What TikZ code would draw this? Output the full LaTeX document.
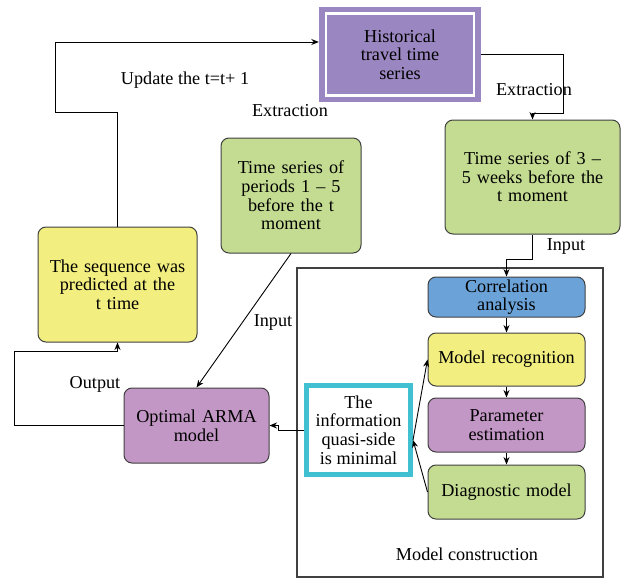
\documentclass[tikz,border=0pt]{standalone}
\usepackage{fontspec}
\setmainfont{Liberation Serif}
\usetikzlibrary{arrows.meta}
\definecolor{boxgreen}{HTML}{C4DC91}
\definecolor{boxyellow}{HTML}{F2EE80}
\definecolor{boxpurple}{HTML}{C397C5}
\definecolor{boxviolet}{HTML}{9A86C0}
\definecolor{boxblue}{HTML}{6BA3D9}
\definecolor{boxcyan}{HTML}{40C0D0}
\definecolor{edgegray}{HTML}{404040}
\newcommand{\boxfont}{\fontsize{18.2}{18.6}\selectfont}
\tikzset{
  flowbox/.style={draw=edgegray, line width=1pt, rounded corners=8pt,
    align=center, inner sep=2pt, font=\boxfont},
  lbl/.style={font=\boxfont, inner sep=0pt},
  conn/.style={draw=black, line width=0.9pt, -{Stealth[length=7.5pt,width=6pt]}},
}
\begin{document}
\begin{tikzpicture}[x=1pt,y=-1pt]
\useasboundingbox (0,0) rectangle (621,578);

% model construction frame
\draw[edgegray, line width=1.1pt] (297,268) rectangle (603,577);
\node[lbl] (mclabel) at (467,554) {Model construction};

% source series
\node[fill=boxviolet, minimum width=162pt, minimum height=95pt, inner sep=0pt,
      align=center, font=\boxfont] (hist) at (400,54.5)
      {Historical\\travel time\\series};
\draw[white, line width=2.2pt] (326,13.5) rectangle (474,95.5);

% input series
\node[flowbox, fill=boxgreen, minimum width=175pt, minimum height=114pt, text width=170pt] (rgreen) at (532.5,177)
      {Time series of 3 –\\5 weeks before the\\t moment};
\node[flowbox, fill=boxgreen, minimum width=140pt, minimum height=115pt, text width=135pt] (mgreen) at (291,195.5)
      {Time series of\\periods 1 – 5\\before the t\\moment};

% prediction
\node[flowbox, fill=boxyellow, minimum width=159pt, minimum height=115pt, text width=155pt] (yellow) at (117.5,284.5)
      {The sequence was\\predicted at the\\t time};
\node[flowbox, fill=boxpurple, minimum width=145pt, minimum height=75pt, text width=140pt] (arma) at (196.5,425.5)
      {Optimal ARMA\\model};

% modelling steps
\node[flowbox, fill=boxblue, minimum width=157pt, minimum height=40pt, text width=152pt] (corr) at (506.5,297)
      {Correlation\\analysis};
\node[flowbox, fill=boxyellow, minimum width=157pt, minimum height=53pt, text width=152pt] (mrec) at (506.5,359.5)
      {Model recognition};
\node[flowbox, fill=boxpurple, minimum width=157pt, minimum height=54pt, text width=152pt] (pest) at (506.5,425)
      {Parameter\\estimation};
\node[flowbox, fill=boxgreen, minimum width=157pt, minimum height=54pt, text width=152pt] (diag) at (506.5,492)
      {Diagnostic model};

% criterion
\node[draw=boxcyan, fill=white, line width=5pt, minimum width=104pt, minimum height=89pt,
      inner sep=0pt, align=center, font=\boxfont] (info) at (358.5,430)
      {The\\information\\quasi-side\\is minimal};

% connectors
\coordinate (e1) at (563,113);
\draw[conn] (hist.east) -| (e1) -| (rgreen.north);
\coordinate (u1) at (55,112);
\draw[conn] (yellow.north) |- (u1) |- ([yshift=12.5pt]hist.west);
\draw[conn] (rgreen.south) -- ++(0,25) -| (corr.north);
\draw[conn] (corr.south) -- (mrec.north);
\draw[conn] (mrec.south) -- (pest.north);
\draw[conn] (pest.south) -- (diag.north);
\draw[conn] ([yshift=-10pt]info.east) -- (mrec.west);
\draw[conn] (diag.west) -- ([yshift=-10pt]info.east);
\draw[conn] (info.west) -- ++(-26,0) |- (arma.east);
\coordinate (o1) at (14,351);
\draw[conn] (arma.west) -| (o1) -| (yellow.south);
\draw[conn] (mgreen.south) -- (arma.north);

% connector labels
\node[lbl] (lupd) at (185,80) {Update the t=t+ 1};
\node[lbl] (lext1) at (290,111) {Extraction};
\node[lbl] (lext2) at (534,90) {Extraction};
\node[lbl] (lin1) at (566,246) {Input};
\node[lbl] (lin2) at (273,322) {Input};
\node[lbl] (lout) at (95,384) {Output};
\end{tikzpicture}
\end{document}
